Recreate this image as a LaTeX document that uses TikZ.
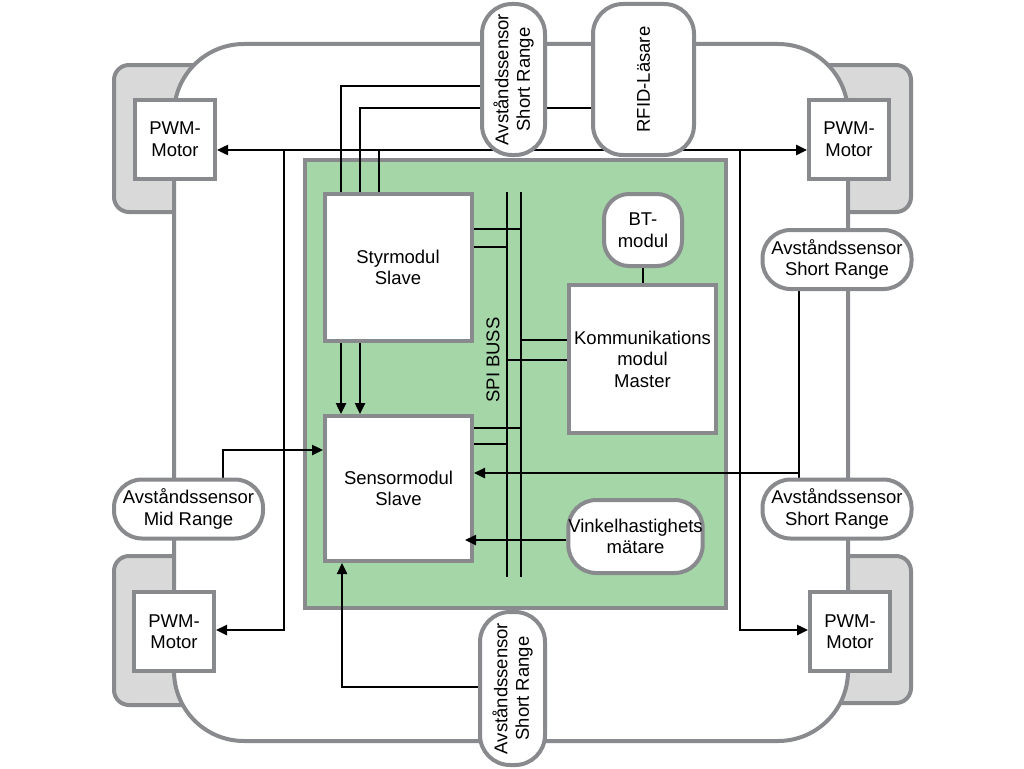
\documentclass[tikz,border=0pt]{standalone}
\usepackage{fontspec}
\setmainfont{Liberation Sans}
\usetikzlibrary{arrows.meta}
\pgfdeclarelayer{back}
\pgfdeclarelayer{wires}
\pgfsetlayers{back,wires,main}
\definecolor{edgegray}{RGB}{137,138,142}
\definecolor{panelgreen}{RGB}{165,214,167}
\definecolor{wheelgray}{RGB}{217,217,217}
\begin{document}
\begin{tikzpicture}
                [x=1pt, y=-1pt, font=\fontsize{18.5}{21.5}\selectfont,
                box/.style={draw=edgegray, fill=white, line width=4pt, align=center, inner sep=0pt},
                pwm/.style={box, minimum width=80pt, minimum height=79pt},
                modul/.style={box, minimum width=147pt, minimum height=147pt},
                pill/.style={box, rounded corners=28pt, minimum width=149pt, minimum height=59pt},
                tallpill/.style={box, rotate=90, rounded corners=30pt, minimum width=151pt, minimum height=63pt},
                link/.style={black, line width=2.4pt},
                arr/.style={link, -{Triangle[length=11pt,width=10pt]}},
                arrs/.style={link, {Triangle[length=11pt,width=10pt]}-{Triangle[length=11pt,width=10pt]}},]

                \useasboundingbox (0,0) rectangle (1024,768);

                % chassis, wheels and card
                \begin{pgfonlayer}{back}
                \draw[draw=edgegray, fill=wheelgray, line width=4pt, rounded corners=15pt] (114,65) rectangle (240,212);
                \draw[draw=edgegray, fill=wheelgray, line width=4pt, rounded corners=15pt] (784,65) rectangle (911,212);
                \draw[draw=edgegray, fill=wheelgray, line width=4pt, rounded corners=15pt] (114,556) rectangle (240,705);
                \draw[draw=edgegray, fill=wheelgray, line width=4pt, rounded corners=15pt] (784,556) rectangle (911,703);
                \draw[draw=edgegray, fill=white, line width=4pt, rounded corners=70pt] (174,44) rectangle (848,741);
                \draw[draw=edgegray, fill=panelgreen, line width=4pt] (305,160) rectangle (726,608);
                \end{pgfonlayer}

                \node[pwm] (pwm1) at (175,139) {PWM-\\Motor};
                \node[pwm] (pwm2) at (849,139) {PWM-\\Motor};
                \node[pwm] (pwm3) at (174,631.5) {PWM-\\Motor};
                \node[pwm] (pwm4) at (850,631.5) {PWM-\\Motor};

                \node[modul] (styr) at (398,267.5) {Styrmodul\\Slave};
                \node[modul, minimum height=145pt] (sensm) at (398.5,488.5) {Sensormodul\\Slave};
                \node[modul, minimum height=148pt] (komm) at (642.5,359) {Kommunikations\\modul\\Master};
                \node[box, rounded corners=25pt, minimum width=78pt, minimum height=72pt] (bt) at (643,230) {BT-\\modul};
                \node[box, rounded corners=28pt, minimum width=133pt, minimum height=73pt] (vink) at (635.5,536.5) {Vinkelhastighets\\mätare};

                \node[pill] (sensr1) at (837,259.5) {Avståndssensor\\Short Range};
                \node[pill] (sensr2) at (837,509) {Avståndssensor\\Short Range};
                \node[pill] (sensl) at (188.5,509) {Avståndssensor\\Mid Range};
                \node[tallpill] (senst) at (513.5,79.5) {Avståndssensor\\Short Range};
                \node[tallpill, minimum height=101pt] (rfid) at (643.5,79.5) {RFID-Läsare};
                \node[tallpill, minimum width=153pt, minimum height=65pt] (sensb) at (512.5,688.5) {Avståndssensor\\Short Range};

                \node[rotate=90] (spi) at (493,360) {SPI BUSS};

                \coordinate (u1) at (341,86);
                \coordinate (u2) at (360,108);
                \coordinate (bus) at (379,150);
                \coordinate (jl) at (284,150);
                \coordinate (jl2) at (284,630);
                \coordinate (jr) at (740,150);
                \coordinate (jr2) at (740,630);
                \coordinate (b1) at (507,192);
                \coordinate (b1e) at (507,577);
                \coordinate (b2) at (521,192);
                \coordinate (b2e) at (521,577);
                \coordinate (st1) at (521,229);
                \coordinate (st2) at (507,247);
                \coordinate (se1) at (521,428);
                \coordinate (se2) at (507,444);
                \coordinate (k1) at (521,340);
                \coordinate (k2) at (507,360);
                \coordinate (v1) at (465,540);
                \coordinate (rj) at (799,473);
                \coordinate (ml) at (223,450);
                \coordinate (bl) at (342,687);

                \begin{pgfonlayer}{wires}
                \draw[arrs] (pwm1.east |- bus) -- (pwm2.west |- bus);
                \draw[link] (styr.north -| bus) -- (bus);
                \draw[arr] (jl) -- (jl2) -- (pwm3.east |- jl2);
                \draw[arr] (jr) -- (jr2) -- (pwm4.west |- jr2);
                \draw[link] (styr.north -| u1) -- (u1) -- (senst.north |- u1);
                \draw[link] (styr.north -| u2) -- (u2) -- (rfid.north |- u2);
                \draw[arr] (styr.south -| u1) -- (sensm.north -| u1);
                \draw[arr] (styr.south -| u2) -- (sensm.north -| u2);

                \draw[link] (b1) -- (b1e);
                \draw[link] (b2) -- (b2e);
                \draw[link] (styr.east |- st1) -- (st1);
                \draw[link] (styr.east |- st2) -- (st2);
                \draw[link] (sensm.east |- se1) -- (se1);
                \draw[link] (sensm.east |- se2) -- (se2);
                \draw[link] (k1) -- (komm.west |- k1);
                \draw[link] (k2) -- (komm.west |- k2);
                \draw[link] (bt.south) -- (bt.south |- komm.north);

                \draw[link] (sensr1.south -| rj) -- (sensr2.north -| rj);
                \draw[arr] (rj) -- (sensm.east |- rj);
                \draw[arr] (sensl.north -| ml) -- (ml) -- (sensm.west |- ml);
                \draw[arr] (sensb.north |- bl) -- (bl) -- (sensm.south -| bl);
                \end{pgfonlayer}

                \draw[arr] (vink.west |- v1) -- (v1);

            \end{tikzpicture}
\end{document}
